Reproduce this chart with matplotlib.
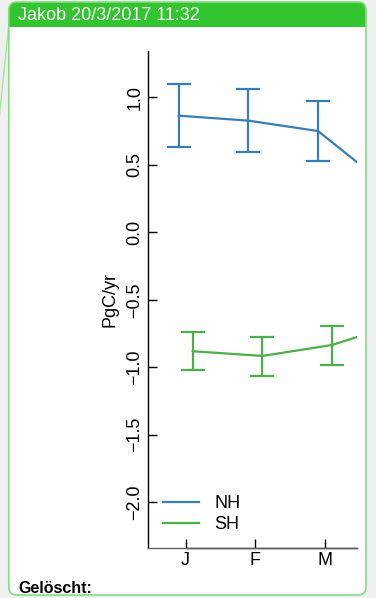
import matplotlib
matplotlib.use("Agg")
import matplotlib.pyplot as plt
from matplotlib.patches import FancyBboxPatch, Rectangle
from matplotlib.lines import Line2D
from matplotlib.transforms import Affine2D
import numpy as np

# ---------------- data ----------------
months = ["J", "F", "M", "A"]
nh_mean = [0.864, 0.827, 0.750, 0.338]
nh_upper = [1.099, 1.059, 0.970]
nh_lower = [0.630, 0.597, 0.530]
sh_mean = [-0.881, -0.916, -0.835, -0.67]
sh_upper = [-0.741, -0.773, -0.692]
sh_lower = [-1.020, -1.064, -0.981]
series_labels = ["NH", "SH"]
y_ticks = [-2.0, -1.5, -1.0, -0.5, 0.0, 0.5, 1.0]
header_text = "Jakob 20/3/2017 11:32"
footer_text = "Gelöscht:"
y_label = "PgC/yr"

# ---------------- figure ----------------
W, H = 376, 598
DPI = 100
plt.rcParams["font.family"] = ["Liberation Sans", "DejaVu Sans"]
fig = plt.figure(figsize=(W / DPI, H / DPI), dpi=DPI, facecolor="#f0f0f0")
# pixel transform (origin top-left, y down)
pt = Affine2D().scale(1, -1).translate(0, H)

BORDER = "#86dc84"
HEADER = "#33c52f"
BLUE = "#377eb8"
GREEN = "#4daf4a"

# connector line on the left
fig.add_artist(Line2D([9.5, -0.5], [18, 115], transform=pt, color="#a9e4a7",
                      lw=1.0, zorder=0))

x0, y0, x1, y1 = 8.8, 2.0, 366.0, 595.0
box = FancyBboxPatch((x0, y0), x1 - x0, y1 - y0,
                     boxstyle="round,pad=0,rounding_size=8",
                     transform=pt, facecolor="white", edgecolor="none", zorder=1)
fig.add_artist(box)
hdr = Rectangle((x0, y0), x1 - x0, 24.5, transform=pt, facecolor=HEADER,
                edgecolor="none", zorder=2)
fig.add_artist(hdr)
hdr.set_clip_path(box)
border = FancyBboxPatch((x0, y0), x1 - x0, y1 - y0,
                        boxstyle="round,pad=0,rounding_size=8",
                        transform=pt, facecolor="none", edgecolor=BORDER,
                        lw=1.2, zorder=3)
fig.add_artist(border)

fig.text(18, 20.5, header_text, transform=pt, color="white", fontsize=13,
         va="baseline", ha="left", zorder=4)
fig.text(18, 593, footer_text, transform=pt, color="black", fontsize=11.5,
         fontweight="bold", va="baseline", ha="left", zorder=4)

# ---------------- axes ----------------
axL, axR, axT, axB = 147.5, 357.0, 51.0, 547.5
ax = fig.add_axes([axL / W, 1 - axB / H, (axR - axL) / W, (axB - axT) / H])
ax.set_zorder(5)
ax.patch.set_visible(False)

x = np.arange(1, len(months) + 1)
off = 0.1
n_err = len(nh_upper)

ax.plot(x - off, nh_mean, color=BLUE, lw=1.6, label=series_labels[0])
ax.plot(x + off, sh_mean, color=GREEN, lw=1.6, label=series_labels[1])

nm = np.array(nh_mean[:n_err])
ax.errorbar(x[:n_err] - off, nm,
            yerr=[nm - np.array(nh_lower), np.array(nh_upper) - nm],
            fmt="none", ecolor=BLUE, elinewidth=1.6, capsize=8.3, capthick=1.6)
sm = np.array(sh_mean[:n_err])
ax.errorbar(x[:n_err] + off, sm,
            yerr=[sm - np.array(sh_lower), np.array(sh_upper) - sm],
            fmt="none", ecolor=GREEN, elinewidth=1.6, capsize=8.3, capthick=1.6)

ax.set_xticks(x)
ax.set_xticklabels(months)
ax.set_yticks(y_ticks)
ax.set_yticklabels([f"{v:.1f}".replace("-", "\u2212") for v in y_ticks])
XMIN, XMAX = 0.452, 3.459
YMIN, YMAX = -2.335, 1.343
ax.set_xlim(XMIN, XMAX)
ax.set_ylim(YMIN, YMAX)

for s in ["top", "right"]:
    ax.spines[s].set_visible(False)
ax.spines["left"].set_linewidth(1.0)
ax.spines["bottom"].set_linewidth(1.0)
ax.spines["bottom"].set_color("#666666")
ax.plot([x[0], XMAX], [YMIN, YMIN], color="black", lw=1.0, clip_on=False)
ax.set_xlim(XMIN, XMAX)
ax.set_ylim(YMIN, YMAX)

ax.tick_params(axis="both", direction="in", length=6.5, width=1.0,
               labelsize=13, colors="black")
ax.tick_params(axis="x", pad=3)
ax.tick_params(axis="y", pad=3, labelrotation=90)
for lbl in ax.get_yticklabels():
    lbl.set_va("center")

ax.set_ylabel(y_label, fontsize=13)
ax.yaxis.set_label_coords((118 - axL) / (axR - axL), 0.5)

leg = ax.legend(loc="center left",
                bbox_to_anchor=(163 / W, 1 - 514.3 / H),
                bbox_transform=fig.transFigure,
                frameon=False, fontsize=13, borderpad=0, borderaxespad=0,
                handlelength=2.0, handletextpad=0.85, labelspacing=0.2)
for h in leg.get_lines():
    h.set_linewidth(1.6)

fig.savefig("out.png", dpi=DPI, facecolor=fig.get_facecolor())
